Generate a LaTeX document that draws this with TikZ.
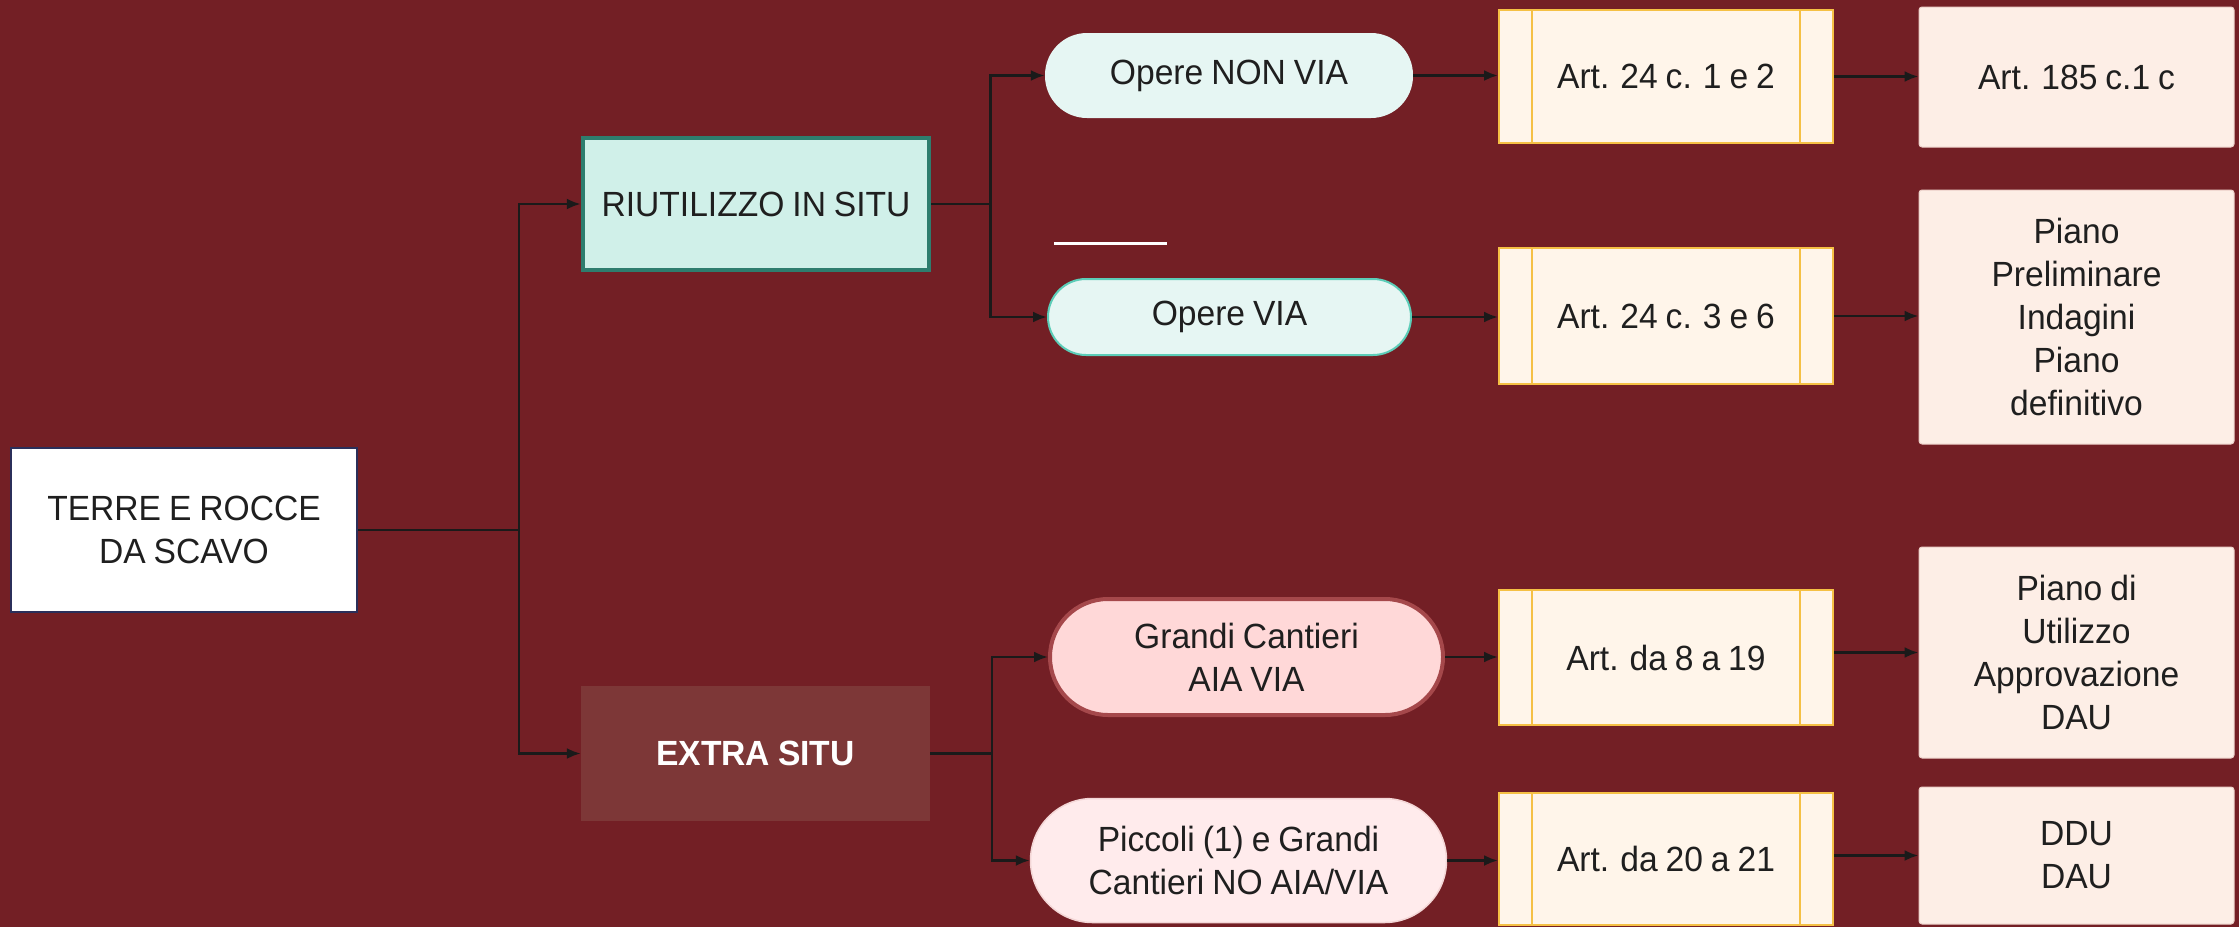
\documentclass[tikz,border=0pt]{standalone}
\usepackage{fontspec}
\setmainfont{Liberation Sans}[FakeStretch=0.96, WordSpace=0.85]
\usetikzlibrary{arrows.meta}
\definecolor{bg}{HTML}{731F25}
\definecolor{conn}{HTML}{1A1A1A}
\definecolor{navy}{HTML}{2B2F5A}
\definecolor{riutfill}{HTML}{D0F0E9}
\definecolor{riutdraw}{HTML}{2E7D6E}
\definecolor{extrafill}{HTML}{7D3737}
\definecolor{pillfill}{HTML}{E6F6F3}
\definecolor{viadraw}{HTML}{5CCDB8}
\definecolor{grandifill}{HTML}{FFD8D8}
\definecolor{grandidraw}{HTML}{A5484B}
\definecolor{piccfill}{HTML}{FFEBEC}
\definecolor{piccdraw}{HTML}{F3D6D6}
\definecolor{artfill}{HTML}{FFF5EA}
\definecolor{artdraw}{HTML}{F5C045}
\definecolor{resfill}{HTML}{FDEEE6}
\definecolor{resdraw}{HTML}{EBCFC8}
\begin{document}
\begin{tikzpicture}[x=1pt,y=-1pt,
  txt/.style={font=\fontsize{35}{43}\selectfont, align=center, inner sep=0pt, text=black!88},
  box/.style={txt, rectangle},
  artbox/.style={box, fill=artfill, draw=artdraw, line width=2pt, minimum width=334pt},
  artline/.style={draw=artdraw, line width=2pt},
  resbox/.style={box, fill=resfill, draw=resdraw, line width=1pt, rounded corners=3pt, minimum width=315pt},
  arr/.style={draw=conn, line width=2.5pt, -{Latex[length=14pt,width=11pt]}},
  ln/.style={draw=conn, line width=2.5pt}
]
\fill[bg] (0,0) rectangle (2239,927);
\useasboundingbox (0,0) rectangle (2239,927);

% column 1
\node[box, fill=white, draw=navy, line width=2pt, minimum width=346pt, minimum height=164pt] (terre) at (184,530) {TERRE E ROCCE\\DA SCAVO};

% column 2
\node[box, fill=riutfill, draw=riutdraw, line width=4.5pt, minimum width=346pt, minimum height=132pt] (riut) at (756,204) {RIUTILIZZO IN SITU};
\node[box, fill=extrafill, minimum width=349pt, minimum height=135pt, text=white, font=\fontsize{35}{43}\selectfont\bfseries] (extra) at (755.5,753.5) {EXTRA SITU};

% column 3 (pills)
\node[box, fill=pillfill, minimum width=368pt, minimum height=85pt, rounded corners=42pt] (nonvia) at (1229,75.5) {Opere NON VIA};
\node[box, fill=pillfill, draw=viadraw, line width=2pt, minimum width=363pt, minimum height=76pt, rounded corners=38pt] (via) at (1229.5,317) {Opere VIA};
\node[box, fill=grandifill, draw=grandidraw, line width=4pt, minimum width=393pt, minimum height=116pt, rounded corners=58pt] (grandi) at (1246.5,657) {Grandi Cantieri\\AIA VIA};
\node[box, fill=piccfill, draw=piccdraw, line width=1.5pt, minimum width=416pt, minimum height=124pt, rounded corners=62pt] (picc) at (1238.5,860.5) {Piccoli (1) e Grandi\\Cantieri NO AIA/VIA};

% column 4 (articles)
\node[artbox, minimum height=133pt] (a1) at (1666,76.5) {Art. 24 c. 1 e 2};
\node[artbox, minimum height=136pt] (a2) at (1666,316) {Art. 24 c. 3 e 6};
\node[artbox, minimum height=135pt] (a3) at (1666,657.5) {Art. da 8 a 19};
\node[artbox, minimum height=132pt] (a4) at (1666,859) {Art. da 20 a 21};
\foreach \n in {a1,a2,a3,a4}{
  \draw[artline] ([xshift=34pt]\n.north west) -- ([xshift=34pt]\n.south west);
  \draw[artline] ([xshift=-34pt]\n.north east) -- ([xshift=-34pt]\n.south east);
}

% column 5 (results)
\node[resbox, minimum height=140pt] (r1) at (2076.5,77) {Art. 185 c.1 c};
\node[resbox, minimum height=254pt] (r2) at (2076.5,317) {Piano\\Preliminare\\Indagini\\Piano\\definitivo};
\node[resbox, minimum height=211pt] (r3) at (2076.5,652.5) {Piano di\\Utilizzo\\Approvazione\\DAU};
\node[resbox, minimum height=137pt] (r4) at (2076.5,855.5) {DDU\\DAU};

% stray white line
\coordinate (wl1) at (1054,243);
\coordinate (wl2) at (1167,243);
\draw[white, line width=3pt] (wl1) -- (wl2);

% connectors
\draw[arr] (terre.east) -- ++(161,0) |- (riut.west);
\draw[arr] (terre.east) -- ++(161,0) |- (extra.west);
\draw[arr] (riut.east) -- ++(59,0) |- (nonvia.west);
\draw[arr] (riut.east) -- ++(59,0) |- (via.west);
\draw[arr] (extra.east) -- ++(62,0) |- (grandi.west);
\draw[arr] (extra.east) -- ++(62,0) |- (picc.west);

\draw[arr] (nonvia.east) -- (nonvia.east -| a1.west);
\draw[arr] (via.east) -- (via.east -| a2.west);
\draw[arr] (grandi.east) -- (grandi.east -| a3.west);
\draw[arr] (picc.east) -- (picc.east -| a4.west);

\draw[arr] (a1.east) -- (a1.east -| r1.west);
\draw[arr] (a2.east) -- (a2.east -| r2.west);
\draw[arr] (r3.west -| a3.east) -- (r3.west);
\draw[arr] (r4.west -| a4.east) -- (r4.west);
\end{tikzpicture}
\end{document}
